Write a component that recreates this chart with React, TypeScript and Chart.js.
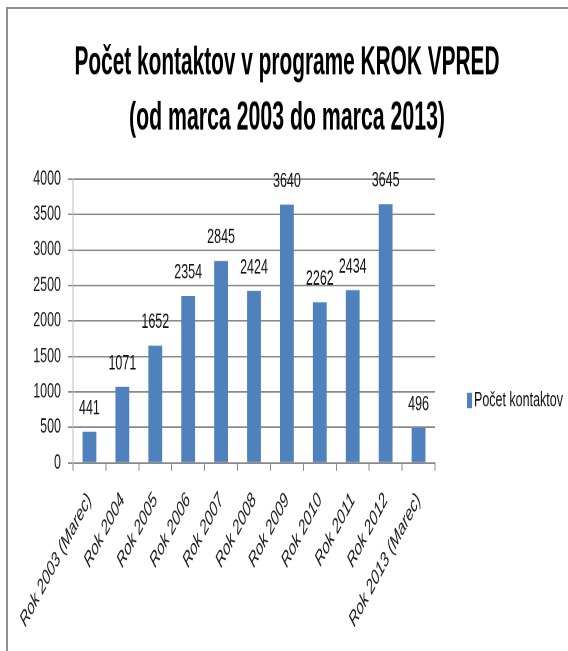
import React, { useEffect, useRef } from "react";
import { Chart, registerables } from "chart.js";

Chart.register(...registerables);

// ---- data ----
const categories: string[] = [
  "Rok 2003 (Marec)",
  "Rok 2004",
  "Rok 2005",
  "Rok 2006",
  "Rok 2007",
  "Rok 2008",
  "Rok 2009",
  "Rok 2010",
  "Rok 2011",
  "Rok 2012",
  "Rok 2013 (Marec)",
];
const contacts: number[] = [441, 1071, 1652, 2354, 2845, 2424, 3640, 2262, 2434, 3645, 496];
const seriesLabel = "Počet kontaktov";
const titleLines: string[] = ["Počet kontaktov v programe KROK VPRED", "(od marca 2003 do marca 2013)"];
const yMin = 0;
const yMax = 4000;
const yStep = 500;

// ---- page geometry (the reference picture is vertically stretched) ----
const W = 568;
const H = 651;
const STRETCH = 1.6;
const LOGICAL_H = Math.round(H / STRETCH);

const BAR_COLOR = "#4f81bd";
const GRID_COLOR = "#8a8a8a";
const TEXT_FONT = '"Liberation Sans", Arial, sans-serif';

const valueLabels = {
  id: "valueLabels",
  afterDatasetsDraw(chart: any) {
    const ctx = chart.ctx;
    chart.data.datasets.forEach((ds: any, i: number) => {
      const meta = chart.getDatasetMeta(i);
      meta.data.forEach((bar: any, j: number) => {
        ctx.save();
        ctx.font = `12.5px ${TEXT_FONT}`;
        ctx.fillStyle = "#111";
        ctx.textAlign = "center";
        ctx.textBaseline = "alphabetic";
        ctx.fillText(String(ds.data[j]), bar.x, bar.y - 11);
        ctx.restore();
      });
    });
  },
};

// condensed two-line title (fillText maxWidth squeezes it like the reference)
const condensedTitle = {
  id: "condensedTitle",
  afterDraw(chart: any) {
    const ctx = chart.ctx;
    const cx = chart.width / 2 + 3;
    const baselines = [46.3, 81.2];
    const widths = [425, 316];
    ctx.save();
    ctx.font = `bold 25px ${TEXT_FONT}`;
    ctx.fillStyle = "#000";
    ctx.textAlign = "center";
    ctx.textBaseline = "alphabetic";
    titleLines.forEach((line, i) => {
      ctx.fillText(line, cx, baselines[i], widths[i]);
    });
    ctx.restore();
  },
};

const sideLegend = {
  id: "sideLegend",
  afterDraw(chart: any) {
    const { ctx, chartArea } = chart;
    const ds = chart.data.datasets[0];
    const x = chartArea.right + 32;
    const yMid = chartArea.top + (chartArea.bottom - chartArea.top) * 0.78;
    ctx.save();
    ctx.fillStyle = ds.backgroundColor;
    ctx.fillRect(x, yMid - 4.8, 5, 9.6);
    ctx.font = `12.5px ${TEXT_FONT}`;
    ctx.fillStyle = "#111";
    ctx.textAlign = "left";
    ctx.textBaseline = "middle";
    ctx.fillText(ds.label, x + 7, yMid);
    ctx.restore();
  },
};

export default function App() {
  const canvasRef = useRef<HTMLCanvasElement | null>(null);

  useEffect(() => {
    const canvas = canvasRef.current;
    if (!canvas) return;
    const chart = new Chart(canvas, {
      type: "bar",
      data: {
        labels: categories,
        datasets: [
          {
            label: seriesLabel,
            data: contacts,
            backgroundColor: BAR_COLOR,
            borderWidth: 0,
            barPercentage: 0.42,
            categoryPercentage: 1,
          },
        ],
      },
      options: {
        responsive: false,
        animation: false,
        devicePixelRatio: 2,
        layout: { padding: { left: 0, right: 0, top: 111.9, bottom: 0 } },
        plugins: {
          legend: { display: false },
          tooltip: { enabled: false },
          title: { display: false },
        },
        scales: {
          x: {
            grid: {
              display: true,
              drawOnChartArea: false,
              drawTicks: true,
              tickLength: 5,
              color: GRID_COLOR,
              offset: true,
            },
            border: { display: true, color: GRID_COLOR, width: 1 },
            ticks: {
              autoSkip: false,
              minRotation: 50,
              maxRotation: 50,
              padding: 11,
              color: "#1a1a1a",
              font: { family: TEXT_FONT, size: 13, style: "italic" },
            },
            afterFit(scale: any) {
              scale.height = LOGICAL_H - 289.4;
            },
          },
          y: {
            min: yMin,
            max: yMax,
            grid: {
              color: GRID_COLOR,
              lineWidth: 1,
              tickLength: 5,
            },
            border: { display: true, color: "#bcbcbc", width: 1 },
            ticks: {
              stepSize: yStep,
              padding: 7,
              color: "#1a1a1a",
              font: { family: TEXT_FONT, size: 12.5 },
              callback: (v: any) => String(v),
            },
            afterFit(scale: any) {
              scale.width = 73;
            },
          },
          // empty axis that only reserves the space used by the legend
          legendSpace: {
            type: "linear",
            position: "right",
            display: true,
            grid: { display: false },
            border: { display: false },
            ticks: { display: false },
            afterFit(scale: any) {
              scale.width = W - 435;
            },
          },
        },
      },
      plugins: [valueLabels, condensedTitle, sideLegend],
    } as any);
    return () => chart.destroy();
  }, []);

  return (
    <div style={{ position: "absolute", left: 0, top: 0, width: W, height: H, background: "#fff", overflow: "hidden" }}>
      <canvas
        ref={canvasRef}
        width={W}
        height={LOGICAL_H}
        style={{ display: "block", width: `${W}px`, height: `${H}px` }}
      />
      <div
        style={{
          position: "absolute",
          left: 6,
          top: 7,
          width: W,
          height: H,
          borderLeft: "2px solid #8f8f8f",
          borderTop: "2px solid #8f8f8f",
          pointerEvents: "none",
        }}
      />
    </div>
  );
}
